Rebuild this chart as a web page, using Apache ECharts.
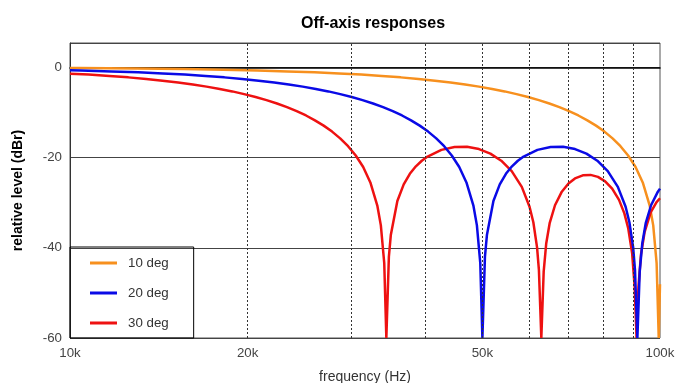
<!DOCTYPE html>
<html>
<head>
<meta charset="utf-8">
<script src="https://cdn.jsdelivr.net/npm/echarts@6/dist/echarts.min.js"></script>
<style>
  html, body { margin: 0; padding: 0; background: #fff; }
  #chart { width: 679px; height: 383px; }
</style>
</head>
<body>
<div id="chart"></div>
<script>
// frequencies in kHz, levels in dBr
var freq10 = [10.00, 10.39, 12.99, 15.58, 18.18, 20.78, 23.37, 25.97, 28.57, 31.16, 33.76, 36.36, 38.96, 41.55,
  44.15, 46.75, 49.34, 51.94, 54.54, 57.13, 59.73, 62.33, 64.93, 67.52, 70.12, 72.72, 75.31, 77.91, 80.51,
  83.10, 85.70, 88.30, 90.90, 93.49, 96.09, 97.39, 98.69, 99.51, 100.00];
var db10 = [-0.16, -0.17, -0.27, -0.39, -0.54, -0.70, -0.90, -1.11, -1.35, -1.61, -1.91, -2.22, -2.57, -2.95,
  -3.35, -3.79, -4.27, -4.78, -5.33, -5.93, -6.57, -7.26, -8.01, -8.82, -9.71, -10.67, -11.74, -12.92, -14.24,
  -15.74, -17.48, -19.54, -22.10, -25.51, -30.72, -35.03, -43.42, -60, -48.07];

var freq20 = [10.00, 10.44, 11.75, 13.05, 14.36, 15.66, 16.97, 18.27, 19.58, 20.88, 22.19, 23.49, 24.80, 26.10,
  27.41, 28.71, 30.02, 31.32, 32.63, 33.93, 35.24, 36.54, 37.85, 39.15, 40.46, 41.76, 43.07, 44.37, 45.68,
  46.98, 48.29, 48.94, 49.59, 50.00, 50.50, 50.90, 52.20, 53.51, 54.81, 56.12, 57.42, 58.73, 61.99, 65.25,
  68.51, 71.78, 75.04, 78.30, 81.56, 84.83, 87.44, 88.74, 90.05, 90.70, 91.55, 92.39, 93.31, 94.61, 96.57,
  99.18, 100.00];
var db20 = [-0.65, -0.70, -0.90, -1.11, -1.35, -1.61, -1.91, -2.22, -2.57, -2.95, -3.35, -3.79, -4.27, -4.78,
  -5.33, -5.93, -6.57, -7.26, -8.01, -8.82, -9.71, -10.67, -11.74, -12.92, -14.24, -15.74, -17.48, -19.54, -22.10,
  -25.51, -30.72, -35.03, -43.42, -60, -42.01, -37.09, -29.62, -25.95, -23.60, -21.94, -20.71, -19.77, -18.29, -17.65,
  -17.62, -18.12, -19.12, -20.70, -23.02, -26.50, -30.91, -34.34, -39.90, -44.90, -60, -45.30, -39.06, -34.46, -30.57,
  -27.56, -26.89];

var freq30 = [10.00, 10.76, 11.66, 12.56, 13.46, 14.35, 15.25, 16.15, 17.04, 17.94, 18.84, 19.73, 20.63, 21.53,
  22.43, 23.32, 24.22, 25.12, 26.01, 26.91, 27.81, 28.70, 29.60, 30.50, 31.40, 32.29, 33.19, 33.64, 34.09,
  34.37, 34.71, 34.98, 35.88, 36.78, 37.67, 38.57, 39.47, 40.37, 42.61, 44.85, 47.09, 49.34, 51.58, 53.82,
  56.06, 58.31, 60.10, 61.00, 61.89, 62.34, 62.93, 63.51, 64.14, 65.03, 66.38, 68.17, 69.97, 71.76, 74.00,
  76.25, 78.49, 80.73, 82.97, 85.22, 87.01, 88.35, 89.70, 90.60, 91.26, 91.94, 92.84, 94.19, 96.43, 98.67,
  100.00];
var db30 = [-1.39, -1.61, -1.91, -2.22, -2.57, -2.95, -3.35, -3.79, -4.27, -4.78, -5.33, -5.93, -6.57, -7.26,
  -8.01, -8.82, -9.71, -10.67, -11.74, -12.92, -14.24, -15.74, -17.48, -19.54, -22.10, -25.51, -30.72, -35.03, -43.42,
  -60, -42.01, -37.09, -29.62, -25.95, -23.60, -21.94, -20.71, -19.77, -18.29, -17.65, -17.62, -18.12, -19.12, -20.70,
  -23.02, -26.50, -30.91, -34.34, -39.90, -44.90, -60, -45.30, -39.06, -34.46, -30.57, -27.56, -25.74, -24.63, -23.93,
  -23.84, -24.28, -25.27, -26.89, -29.38, -32.38, -35.71, -41.22, -48.77, -60, -48.61, -41.51, -36.47, -32.16, -29.86,
  -29.01];

var gridFreqs = [20, 30, 40, 50, 60, 70, 80, 90];
var xLabels = [10, 20, 50, 100];
var yTicks = [-60, -40, -20, 0];

function pairs(f, d) {
  return f.map(function (v, i) { return [v * 1000, d[i]]; });
}

var mychart = echarts.init(document.getElementById('chart'));

option = {
  animation: false,
  title: {
    text: 'Off-axis responses',
    left: 301,
    top: 16,
    padding: 0,
    textStyle: { fontFamily: 'Liberation Sans', fontSize: 16, fontWeight: 'bold', color: '#000' }
  },
  legend: {
    orient: 'vertical',
    left: 70,
    top: 247,
    padding: [8, 25, 7, 20],
    itemGap: 14,
    itemWidth: 27,
    itemHeight: 3,
    icon: 'rect',
    borderColor: '#000',
    borderWidth: 1,
    textStyle: { fontFamily: 'Liberation Sans', fontSize: 13.3, color: '#333', lineHeight: 16, padding: [0, 0, 0, 6] },
    data: ['10 deg', '20 deg', '30 deg']
  },
  grid: {
    left: 70,
    right: 19,
    top: 43,
    bottom: 45,
    outerBoundsMode: 'none',
    containLabel: false,
    show: true,
    borderColor: '#555',
    borderWidth: 1
  },
  xAxis: {
    type: 'log',
    logBase: 10,
    min: 10000,
    max: 100000,
    name: 'frequency (Hz)',
    nameLocation: 'middle',
    nameGap: 32,
    nameTextStyle: { fontFamily: 'Liberation Sans', fontSize: 14, color: '#333' },
    axisLine: { show: true, lineStyle: { color: '#000', width: 1.5 } },
    axisTick: { show: false },
    splitLine: { show: false },
    axisLabel: {
      customValues: xLabels.map(function (v) { return v * 1000; }),
      margin: 9,
      fontFamily: 'Liberation Sans',
      fontSize: 13.3,
      color: '#444',
      formatter: function (v) { return Math.round(v / 1000) + 'k'; }
    }
  },
  yAxis: {
    type: 'value',
    min: -60,
    max: 5.4,
    interval: 20,
    name: 'relative level (dBr)',
    nameLocation: 'middle',
    nameGap: 45,
    nameTextStyle: { fontFamily: 'Liberation Sans', fontSize: 14, fontWeight: 'bold', color: '#000' },
    axisLine: { show: true, lineStyle: { color: '#333' } },
    axisTick: { show: false },
    splitLine: { show: true, lineStyle: { color: '#444', width: 1 } },
    axisLabel: {
      margin: 8,
      fontFamily: 'Liberation Sans',
      fontSize: 13.3,
      color: '#444',
      formatter: function (v) { return yTicks.indexOf(v) >= 0 ? String(v) : ''; }
    }
  },
  series: [
    {
      name: '10 deg',
      type: 'line',
      data: pairs(freq10, db10),
      showSymbol: false,
      symbol: 'none',
      z: 2,
      lineStyle: { color: '#f7901e', width: 2.5 },
      itemStyle: { color: '#f7901e' },
      markLine: {
        silent: true,
        symbol: 'none',
        label: { show: false },
        lineStyle: { color: '#333', type: [2, 2], width: 1 },
        data: gridFreqs.map(function (v) { return { xAxis: v * 1000 }; })
      }
    },
    {
      name: '20 deg',
      type: 'line',
      data: pairs(freq20, db20),
      showSymbol: false,
      symbol: 'none',
      z: 4,
      lineStyle: { color: '#0a0ae6', width: 2.5 },
      itemStyle: { color: '#0a0ae6' }
    },
    {
      name: '30 deg',
      type: 'line',
      data: pairs(freq30, db30),
      showSymbol: false,
      symbol: 'none',
      z: 3,
      lineStyle: { color: '#ee1111', width: 2.5 },
      itemStyle: { color: '#ee1111' }
    }
  ]
};

mychart.setOption(option);
</script>
</body>
</html>
